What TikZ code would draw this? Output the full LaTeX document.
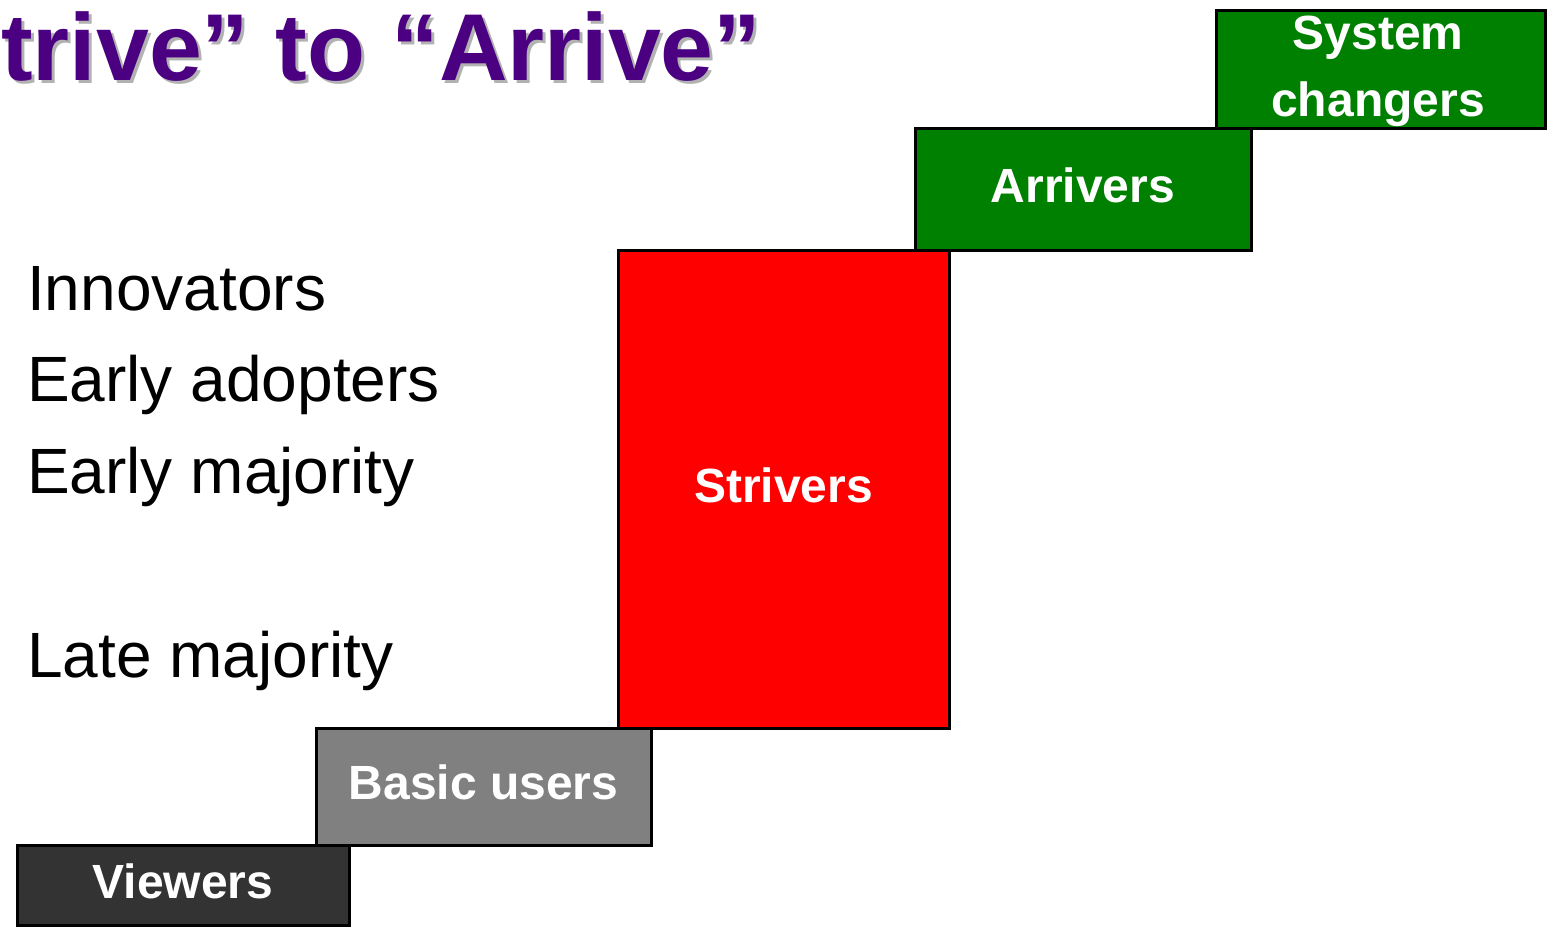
\documentclass[tikz,border=0pt]{standalone}
\usepackage{fontspec}
\setmainfont{Liberation Sans}
\definecolor{titlepurple}{RGB}{75,0,130}
\definecolor{titleshadow}{RGB}{178,178,178}
\definecolor{viewergray}{RGB}{51,51,51}
\definecolor{basicgray}{RGB}{128,128,128}
\definecolor{striverred}{RGB}{255,0,0}
\definecolor{arrivergreen}{RGB}{0,128,0}
\tikzset{
  stage/.style={draw=black, line width=3pt, inner sep=0pt, text=white,
    font=\fontsize{48}{61}\selectfont\bfseries, align=center},
  oneline/.style={text height=38pt, text depth=12pt},
  group/.style={anchor=base west, inner sep=0pt, font=\fontsize{64}{70}\selectfont},
  headline/.style={anchor=base west, inner sep=0pt, font=\fontsize{95}{100}\selectfont\bfseries}
}
\begin{document}
\begin{tikzpicture}[x=1pt,y=-1pt]
\useasboundingbox (0,0) rectangle (1547,929);

% title with drop shadow
\node[headline, text=titleshadow] (titleshade) at (4,83) {trive” to “Arrive”};
\node[headline, text=titlepurple] (title) at (1,80) {trive” to “Arrive”};

% adopter groups
\node[group] (innov) at (27,310) {Innovators};
\node[group] (early) at (27,401) {Early adopters};
\node[group] (earlymaj) at (27,493) {Early majority};
\node[group] (latemaj) at (27,677) {Late majority};

% staircase of stages
\node[stage, oneline, fill=basicgray, minimum width=335, minimum height=117] (basic) at (483.5,786.5) {Basic users};
\node[stage, oneline, fill=viewergray, minimum width=332, minimum height=80] (viewers) at (183,885) {Viewers};
\node[stage, oneline, fill=striverred, minimum width=331, minimum height=478] (strivers) at (783.5,489) {Strivers};
\node[stage, oneline, fill=arrivergreen, minimum width=336, minimum height=122] (arrivers) at (1083,189) {Arrivers};
\node[stage, fill=arrivergreen, minimum width=329, minimum height=118,
      font=\fontsize{48}{67}\selectfont\bfseries] (changers) at (1380.5,69) {};
\node[stage, draw=none, font=\fontsize{48}{67}\selectfont\bfseries] (changerstext) at (1378,71) {System\\changers};
\end{tikzpicture}
\end{document}
